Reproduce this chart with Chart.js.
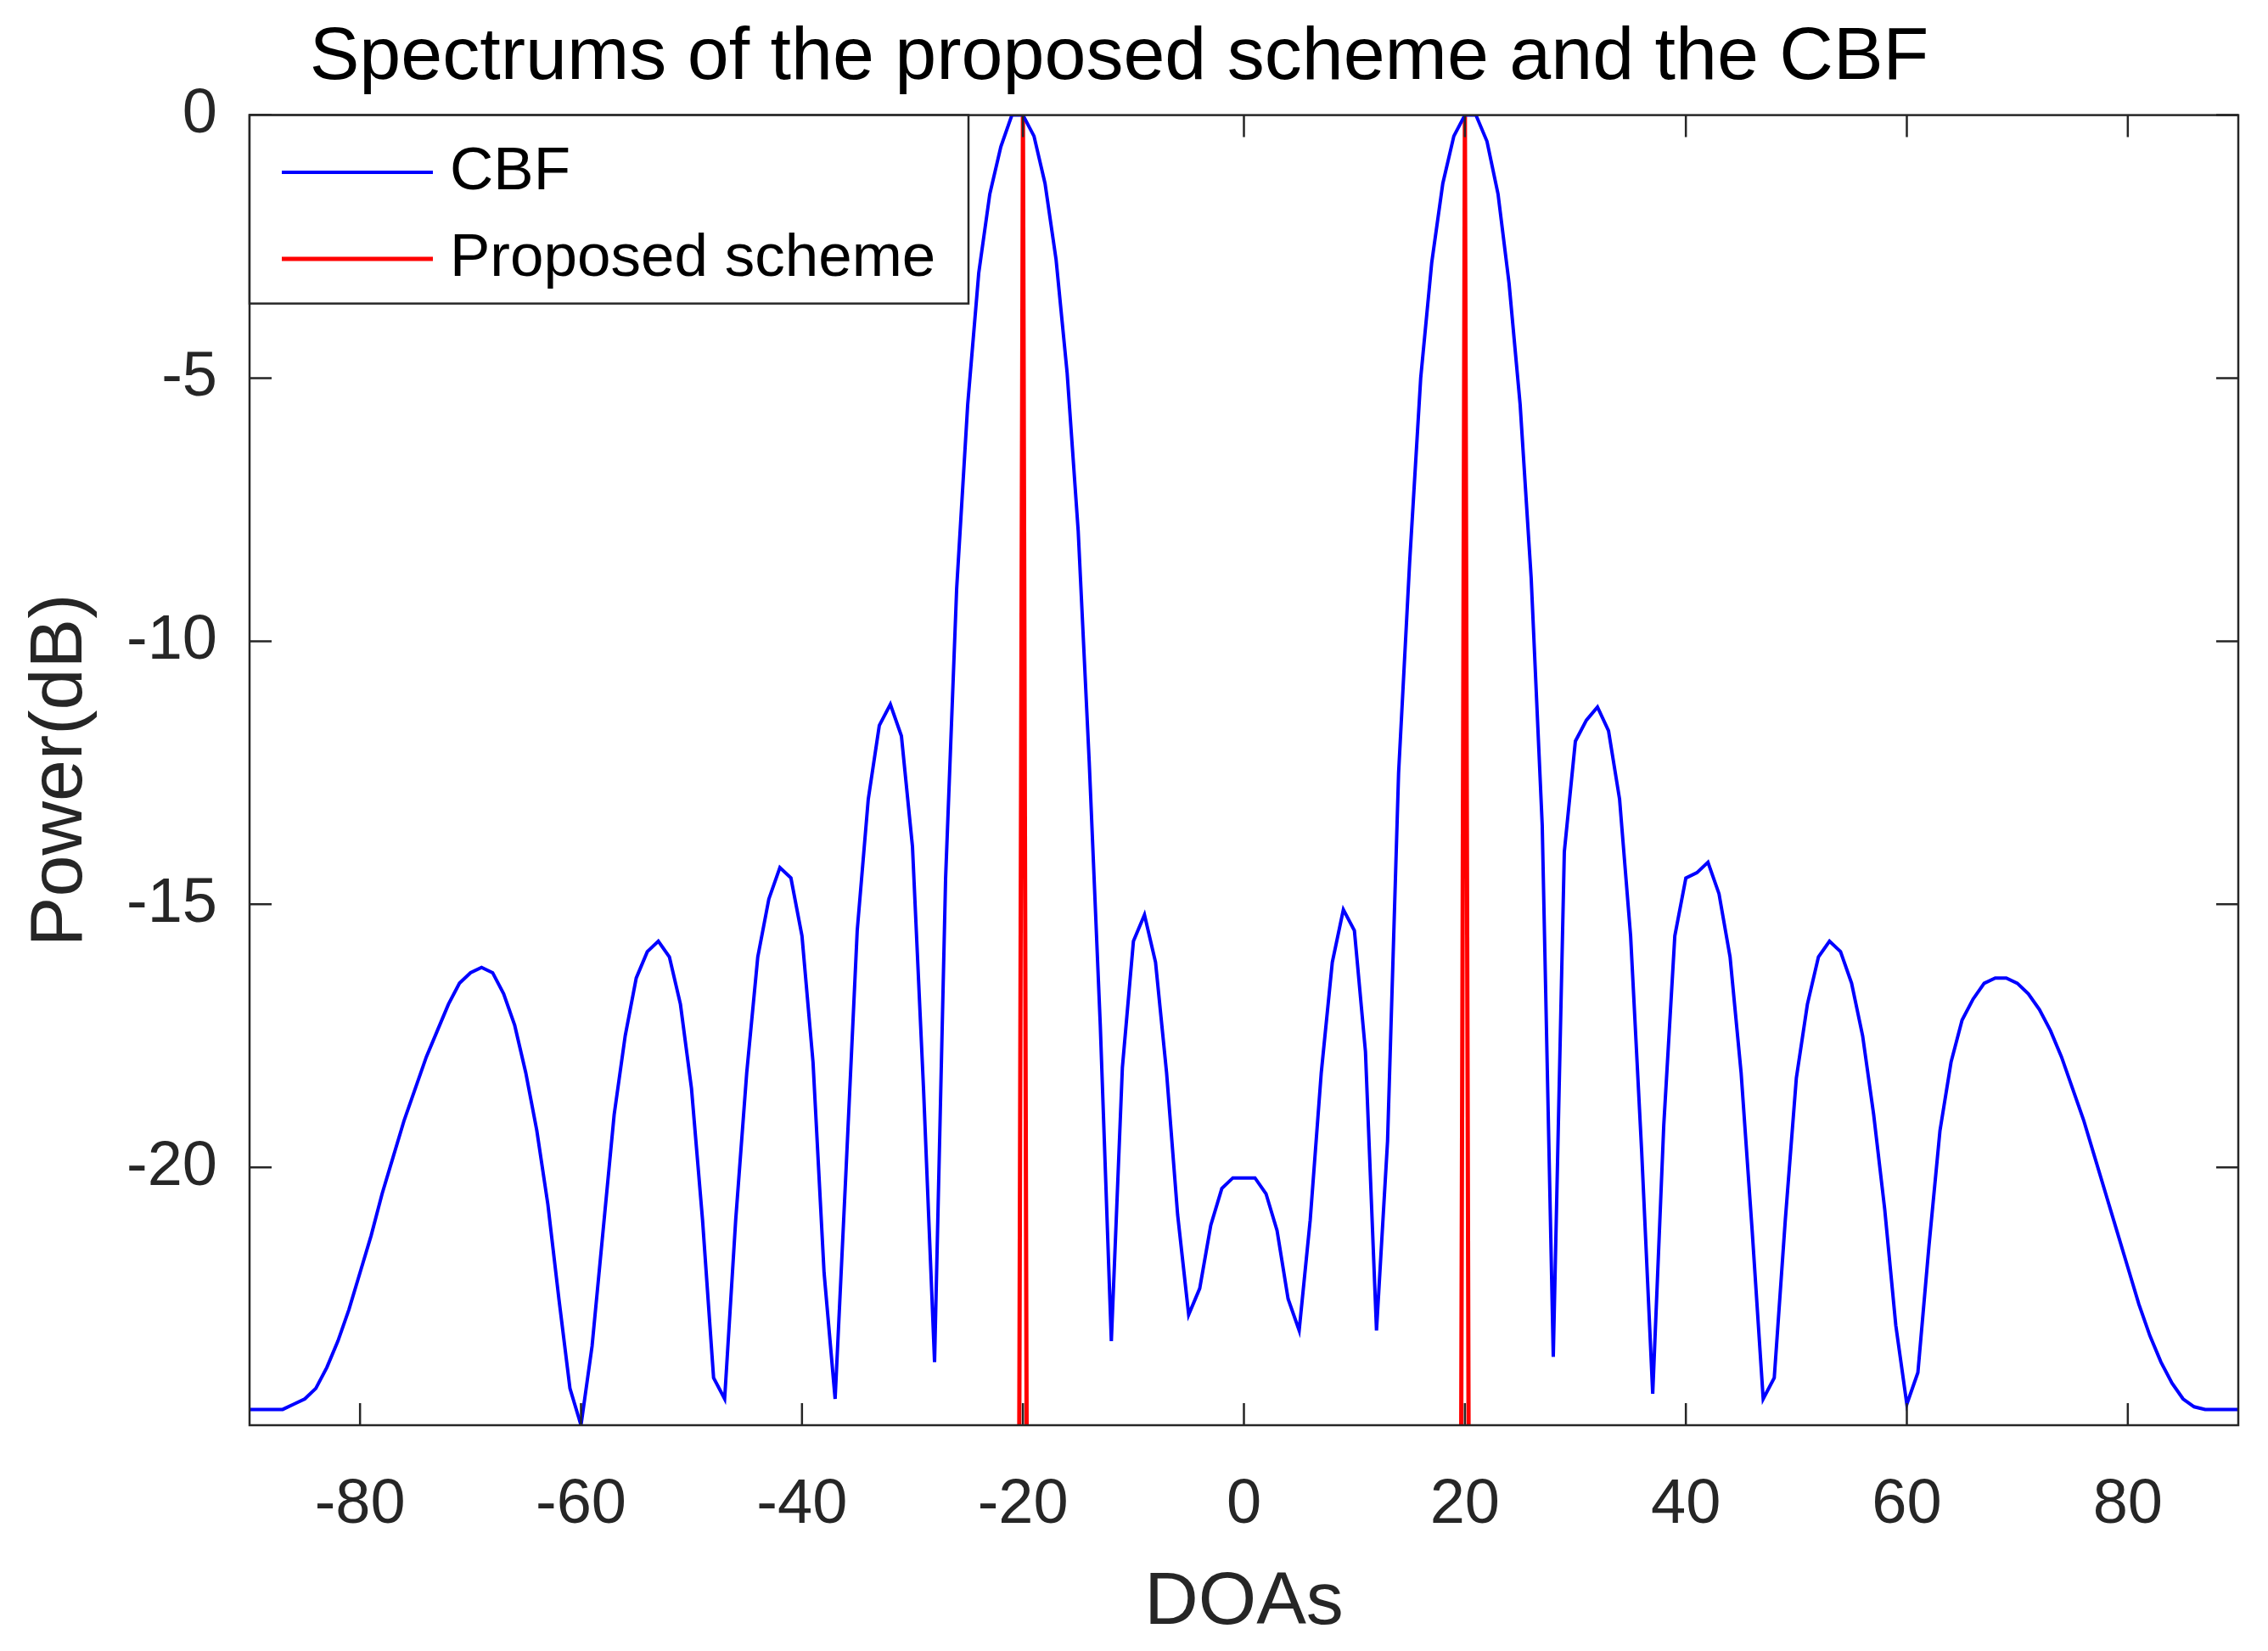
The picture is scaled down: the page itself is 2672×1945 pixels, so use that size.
<!DOCTYPE html>
<html>
<head>
<meta charset="utf-8">
<script src="https://cdn.jsdelivr.net/npm/chart.js@4"></script>
<style>
  html, body { margin: 0; padding: 0; background: #fff; }
  canvas { display: block; }
</style>
</head>
<body>
<canvas id="spectrumChart" width="2672" height="1945" style="width:2672px;height:1945px"></canvas>
<script>
const TITLE_TEXT = "Spectrums of the proposed scheme and the CBF";
const X_LABEL = "DOAs";
const Y_LABEL = "Power(dB)";
const SERIES_NAMES = ["CBF", "Proposed scheme"];

const xTicks = [-80, -60, -40, -20, 0, 20, 40, 60, 80];
const yTicks = [-20, -15, -10, -5, 0];

// CBF spectrum, one value per degree from -90 to 90
const cbfDoas = [];
for (let d = -90; d <= 90; d++) cbfDoas.push(d);
const cbfDb = [
  -24.6, -24.6, -24.6, -24.6, -24.5, -24.4, -24.2, -23.8, -23.3, -22.7,   // -90..-81
  -22.0, -21.3, -20.5, -19.8, -19.1, -18.5, -17.9, -17.4, -16.9, -16.5,   // -80..-71
  -16.3, -16.2, -16.3, -16.7, -17.3, -18.2, -19.3, -20.7, -22.5, -24.2,   // -70..-61
  -24.9, -23.4, -21.2, -19.0, -17.5, -16.4, -15.9, -15.7, -16.0, -16.9,   // -60..-51
  -18.5, -21.0, -24.0, -24.4, -21.0, -18.2, -16.0, -14.9, -14.3, -14.5,   // -50..-41
  -15.6, -18.0, -22.0, -24.4, -20.0, -15.5, -13.0, -11.6, -11.2, -11.8,   // -40..-31
  -13.9, -18.5, -23.7, -14.5, -9.0, -5.5, -3.0, -1.5, -0.6, 0.0,          // -30..-21
  0.0, -0.4, -1.3, -2.75, -4.9, -7.9, -12.3, -17.3, -23.3, -18.1,         // -20..-11
  -15.7, -15.2, -16.1, -18.2, -20.9, -22.8, -22.3, -21.1, -20.4, -20.2,   // -10..-1
  -20.2,                                                                  // 0
  -20.2, -20.5, -21.2, -22.5, -23.1, -21.0, -18.2, -16.1, -15.1, -15.5,   // 1..10
  -17.8, -23.1, -19.5, -12.5, -8.5, -5.0, -2.8, -1.3, -0.4, 0.0,          // 11..20
  0.0, -0.5, -1.5, -3.2, -5.5, -8.8, -13.5, -23.6, -14.0, -11.9,          // 21..30
  -11.5, -11.25, -11.7, -13.0, -15.6, -19.7, -24.3, -19.2, -15.6, -14.5,  // 31..40
  -14.4, -14.2, -14.8, -16.0, -18.2, -21.2, -24.4, -24.0, -21.0, -18.3,   // 41..50
  -16.9, -16.0, -15.7, -15.9, -16.5, -17.5, -19.0, -20.8, -23.0, -24.5,   // 51..60
  -23.9, -21.5, -19.3, -18.0, -17.2, -16.8, -16.5, -16.4, -16.4, -16.5,   // 61..70
  -16.7, -17.0, -17.4, -17.9, -18.5, -19.1, -19.8, -20.5, -21.2, -21.9,   // 71..80
  -22.6, -23.2, -23.7, -24.1, -24.4, -24.55, -24.6, -24.6, -24.6, -24.6   // 81..90
];

// proposed scheme: two sharp spikes at the true DOAs
const proposedDoas = [-90, -20.4, -20, -19.6, 19.6, 20, 20.4, 90];
const proposedDb = [-30, -30, 0, -30, -30, 0, -30, -30];

const TEXT_COLOR = "#262626";
const FONT = "'Liberation Sans', Arial, sans-serif";

const framePlugin = {
  id: "frame",
  afterDatasetsDraw(chart) {
    const ctx = chart.ctx;
    const a = chart.chartArea;
    const xs = chart.scales.x, ys = chart.scales.y;
    ctx.save();
    ctx.strokeStyle = TEXT_COLOR;
    ctx.lineWidth = 2.5;
    ctx.strokeRect(a.left, a.top, a.right - a.left, a.bottom - a.top);
    const tl = 26;
    ctx.beginPath();
    xTicks.forEach(v => {
      const px = xs.getPixelForValue(v);
      ctx.moveTo(px, a.bottom); ctx.lineTo(px, a.bottom - tl);
      ctx.moveTo(px, a.top); ctx.lineTo(px, a.top + tl);
    });
    yTicks.forEach(v => {
      const py = ys.getPixelForValue(v);
      ctx.moveTo(a.left, py); ctx.lineTo(a.left + tl, py);
      ctx.moveTo(a.right, py); ctx.lineTo(a.right - tl, py);
    });
    ctx.stroke();

    // legend box in the top left corner
    const bx = a.left, by = a.top, bw = 847, bh = 222;
    ctx.fillStyle = "#fff";
    ctx.fillRect(bx, by, bw, bh);
    ctx.strokeRect(bx, by, bw, bh);
    const colors = ["#0000ff", "#ff0000"];
    const widths = [4, 5];
    const rows = [203, 305];
    ctx.font = "71px " + FONT;
    ctx.textBaseline = "middle";
    SERIES_NAMES.forEach((name, i) => {
      ctx.strokeStyle = colors[i];
      ctx.lineWidth = widths[i];
      ctx.beginPath();
      ctx.moveTo(332, rows[i]); ctx.lineTo(510, rows[i]);
      ctx.stroke();
      ctx.fillStyle = "#000";
      ctx.fillText(name, 530, rows[i]);
    });
    ctx.restore();
  }
};

new Chart(document.getElementById("spectrumChart"), {
  type: "line",
  data: {
    datasets: [
      {
        label: SERIES_NAMES[0],
        data: cbfDoas.map((d, i) => ({ x: d, y: cbfDb[i] })),
        borderColor: "#0000ff",
        borderWidth: 4,
        pointRadius: 0,
        tension: 0
      },
      {
        label: SERIES_NAMES[1],
        data: proposedDoas.map((d, i) => ({ x: d, y: proposedDb[i] })),
        borderColor: "#ff0000",
        borderWidth: 5,
        pointRadius: 0,
        tension: 0
      }
    ]
  },
  options: {
    responsive: false,
    animation: false,
    devicePixelRatio: 1,
    layout: { padding: { left: 0, right: 35, top: 0, bottom: 0 } },
    plugins: {
      legend: { display: false },
      tooltip: { enabled: false },
      title: {
        display: true,
        text: TITLE_TEXT,
        color: "#000",
        font: { family: FONT, size: 88, weight: "normal" },
        padding: { top: 16, bottom: 14 }
      }
    },
    scales: {
      x: {
        type: "linear",
        min: -90,
        max: 90,
        afterBuildTicks: s => { s.ticks = xTicks.map(v => ({ value: v })); },
        grid: { display: false, drawTicks: false },
        border: { display: false },
        ticks: { color: TEXT_COLOR, font: { family: FONT, size: 74 }, padding: 50, maxRotation: 0 },
        title: { display: true, text: X_LABEL, color: TEXT_COLOR, font: { family: FONT, size: 88 }, padding: { top: 0, bottom: 3 } },
        afterFit: s => { s.height = 266; }
      },
      y: {
        min: -24.9,
        max: 0,
        afterBuildTicks: s => { s.ticks = yTicks.map(v => ({ value: v })); },
        grid: { display: false, drawTicks: false },
        border: { display: false },
        ticks: { color: TEXT_COLOR, font: { family: FONT, size: 74 }, padding: 38 },
        title: { display: true, text: Y_LABEL, color: TEXT_COLOR, font: { family: FONT, size: 88 }, padding: { top: 19, bottom: 0 } },
        afterFit: s => { s.width = 294; }
      }
    }
  },
  plugins: [framePlugin]
});
</script>
</body>
</html>
